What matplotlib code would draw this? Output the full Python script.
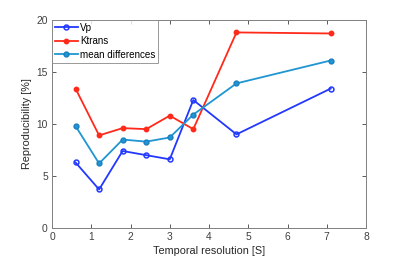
import matplotlib
matplotlib.use("Agg")
import matplotlib.pyplot as plt

x = [0.6, 1.2, 1.8, 2.4, 3.0, 3.6, 4.7, 7.1]
vp = [6.3, 3.7, 7.4, 7.0, 6.6, 12.3, 9.0, 13.4]
ktrans = [13.4, 8.9, 9.6, 9.5, 10.8, 9.5, 18.8, 18.7]
meandiff = [9.8, 6.2, 8.5, 8.3, 8.7, 10.9, 13.9, 16.1]
labels = ["Vp", "Ktrans", "mean differences"]

plt.rcParams['font.family'] = ['Liberation Sans', 'DejaVu Sans']
fig = plt.figure(figsize=(4, 2.66), dpi=100)
ax = fig.add_axes([0.13, 0.143, 0.785, 0.782])

ax.plot(x, vp, color='#2238ff', lw=1.3, marker='o', ms=3.5, mfc='none', mew=1.1, label=labels[0])
ax.plot(x, ktrans, color='#ff2a1a', lw=1.3, marker='o', ms=3.2, mfc='#ff2a1a', label=labels[1])
ax.plot(x, meandiff, color='#1f96d2', lw=1.3, marker='o', ms=3.5, mfc='#1f96d2', mec='#1a7fbf', label=labels[2])

ax.set_xlim(0, 8)
ax.set_ylim(0, 20)
ax.set_xticks(range(0, 9))
ax.set_yticks([0, 5, 10, 15, 20])
ax.tick_params(direction='in', top=True, right=True, labelsize=7.4, colors='#404040', length=3, width=0.6, pad=3)
for s in ax.spines.values():
    s.set_color('#808080')
    s.set_linewidth(0.7)
ax.set_xlabel('Temporal resolution [S]', fontsize=7.8, color='#262626', labelpad=3)
ax.set_ylabel('Reproducibility [%]', fontsize=7.8, color='#262626', labelpad=3)
leg = ax.legend(loc='upper left', fontsize=7.1, frameon=True, fancybox=False, borderaxespad=0,
                handlelength=2.3, handletextpad=0.25, borderpad=0.3, labelspacing=0.35)
leg.get_frame().set_edgecolor('#808080')
leg.get_frame().set_linewidth(0.7)
fig.savefig('out.png', dpi=100)
